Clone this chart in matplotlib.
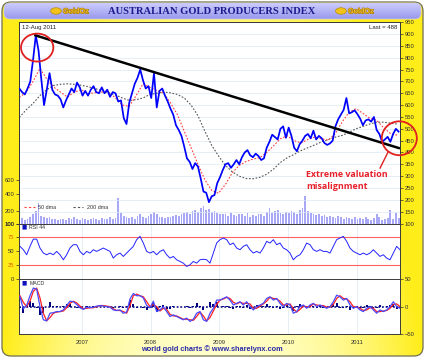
import numpy as np
import matplotlib
matplotlib.use("Agg")
import matplotlib.pyplot as plt
from matplotlib.patches import Ellipse, FancyBboxPatch
from matplotlib.lines import Line2D
import matplotlib.patheffects as pe

# ---------------- data ----------------
TITLE = "AUSTRALIAN GOLD PRODUCERS INDEX"
DATE_LABEL = "12-Aug 2011"
LAST_LABEL = "Last = 488"
FOOTER = "world gold charts \u00a9 www.sharelynx.com"
LOGO = "GoldOz"
NOTE = ["Extreme valuation", "misalignment"]
YEARS = [2007, 2008, 2009, 2010, 2011]
START, END = 2006.09, 2011.63          # decimal years shown on the x axis

PRICE = [670, 655, 645, 670, 700, 790, 895, 830, 710, 600,
         665, 735, 665, 645, 640, 625, 590, 620, 645, 670,
         655, 695, 675, 640, 660, 640, 665, 680, 655, 650,
         675, 650, 665, 635, 655, 650, 615, 620, 545, 520,
         610, 650, 690, 715, 750, 705, 670, 680, 630, 735,
         590, 660, 670, 640, 615, 585, 560, 515, 495, 470,
         425, 375, 360, 330, 355, 340, 290, 235, 230, 190,
         215, 220, 270, 295, 325, 350, 355, 335, 350, 368,
         350, 380, 400, 410, 388, 380, 395, 385, 368, 375,
         420, 445, 475, 465, 455, 500, 510, 462, 505, 470,
         420, 405, 435, 450, 470, 478, 460, 492, 455, 470,
         460, 440, 432, 438, 450, 510, 540, 560, 580, 630,
         565, 570, 578, 562, 543, 515, 535, 540, 530, 550,
         495, 478, 445, 455, 466, 445, 478, 500, 488]
PRICE_RANGE = (2006.09, 2011.61)

VOLUME = [130, 140, 125, 135, 150, 170, 200, 283, 160, 150,
          140, 150, 135, 130, 125, 135, 130, 125, 140, 130,
          145, 135, 125, 140, 130,
          125, 135, 140, 130, 125, 140, 135, 130, 150, 135,
          140, 340, 180, 160, 150, 140, 150, 135, 160, 170,
          150, 140, 160, 170, 190,
          175, 150, 145, 140, 150, 145, 155, 165, 160, 175,
          180, 190, 170, 200, 210, 190, 230, 250, 210, 220,
          190, 200, 180, 175, 170,
          175, 160, 180, 165, 155, 170, 175, 160, 180, 150,
          165, 155, 175, 170, 160, 195, 230, 180, 200, 215,
          185, 170, 190, 180, 200,
          190, 175, 210, 230, 370, 200, 180, 175, 165, 170,
          155, 165, 150, 160, 145, 140, 155, 145, 135, 150,
          140, 130, 145, 135, 140,
          130, 145, 135, 125, 140, 175, 150, 125, 135, 140,
          210, 130, 180, 140]

DMA50 = [632, 655, 700, 755, 710, 676, 655, 634, 655, 665,
         648, 652, 655, 655, 630, 600, 595, 640, 690, 675,
         662, 650, 610, 560, 490, 420, 350, 285, 240, 228,
         265, 315, 345, 362, 372, 378, 400, 428, 458, 470,
         450, 440, 455, 465, 458, 452, 480, 530, 570, 585,
         565, 545, 536, 505, 480, 473]
DMA200 = [548, 580, 607, 640, 665, 683, 688, 690, 688, 684,
          678, 670, 662, 652, 643, 630, 620, 623, 630, 645,
          650, 655, 652, 645, 630, 600, 555, 490, 430, 385,
          345, 318, 300, 290, 289, 295, 308, 330, 358, 378,
          392, 408, 420, 432, 445, 455, 465, 472, 485, 500,
          510, 520, 528, 528, 524, 520]
DMA_RANGE = (2006.09, 2011.59)

RSI = [59, 53, 44, 59, 72, 72, 56, 47, 44, 47,
       44, 50, 44, 35, 44, 56, 62, 62, 50, 44,
       50, 47, 53, 50, 53, 56, 53, 50, 38, 44,
       47, 41, 47, 53, 59, 71, 77, 65, 50, 47,
       50, 44, 50, 53, 44, 38, 41, 35, 32, 29,
       23, 26, 32, 29, 35, 36, 35, 29, 47, 65,
       71, 74, 71, 62, 65, 56, 53, 59, 62, 53,
       47, 50, 47, 56, 68, 65, 71, 62, 65, 56,
       53, 47, 35, 41, 44, 53, 65, 62, 53, 50,
       53, 50, 50, 47, 59, 71, 74, 77, 68, 56,
       50, 47, 44, 47, 44, 47, 53, 47, 41, 44,
       38, 35, 47, 59, 53]
RSI_NAME = "RSI 44"

MACD = [18, -4, 2, 20, 34, 32, 0, -24, -26, -12,
        -11, -9, -9, -6, 2, 10, 9, 4, -2, -5,
        -1, -2, -1, 1, 2, 1, 0, -1, -6, -7,
        -6, -12, -10, 14, 24, 20, 20, 16, 2, -2,
        10, -9, -6, 0, -9, -18, -15, -18, -21, -24,
        -21, -27, -23, -12, -9, -24, -27, -12, -3, 12,
        12, 15, 18, 12, 3, 6, 9, 3, 9, 0,
        -6, 0, 3, 6, 15, 18, 12, 15, 6, 0,
        6, 3, -12, -9, 0, 3, -3, 3, 6, 0,
        3, 0, -3, 0, 9, 21, 18, 12, 15, 3,
        -3, 0, -6, -9, -3, 0, -6, -12, -6, -9,
        -6, 0, 9, 0, -3]
SIGNAL = [20, 8, 0, 10, 28, 34, 16, -12, -26, -20,
          -12, -10, -9, -8, -2, 6, 10, 7, 1, -4,
          -3, -2, -2, 0, 2, 2, 1, 0, -4, -7,
          -7, -9, -12, 2, 20, 23, 20, 18, 9, 0,
          4, 0, -8, -3, -5, -14, -17, -17, -20, -23,
          -23, -24, -25, -18, -10, -17, -26, -20, -8, 4,
          12, 14, 17, 15, 8, 5, 8, 6, 6, 5,
          -3, -3, 1, 5, 10, 17, 15, 14, 10, 3,
          3, 5, -4, -10, -5, 1, 0, 0, 5, 3,
          2, 2, -1, -1, 4, 15, 20, 15, 14, 9,
          0, -1, -3, -7, -6, -2, -3, -9, -9, -8,
          -7, -3, 4, 5, 0]
HIST = [-2, -12, 2, 10, 6, -2, -16, -12, 0, 8,
        1, 1, 0, 2, 4, 4, -1, -3, -3, -1,
        2, 0, 1, 1, 0, -1, -1, -1, -2, 0,
        1, -3, 2, 12, 4, -3, 0, -2, -7, -2,
        6, -9, 2, 3, -4, -4, 2, -1, -1, -1,
        2, -3, 2, 6, 1, -7, -1, 8, 5, 8,
        0, 1, 1, -3, -5, 1, 1, -3, 3, -5,
        -3, 3, 2, 1, 5, 1, -3, 1, -4, -3,
        3, -2, -8, 1, 5, 2, -3, 3, 1, -3,
        1, -2, -2, 1, 5, 6, -2, -3, 1, -6,
        -3, 1, -3, -2, 3, 2, -3, -3, 3, -1,
        1, 3, 5, -5, -3]
IND_RANGE = (2006.10, 2011.63)

TREND_X = [2006.32, 2011.62]
TREND_Y = [895, 418]

for name, a, b in [("VOLUME", VOLUME, PRICE), ("DMA200", DMA200, DMA50),
                   ("MACD", MACD, RSI), ("SIGNAL", SIGNAL, RSI), ("HIST", HIST, RSI)]:
    if len(a) != len(b):
        raise SystemExit(f"{name}: {len(a)} vs {len(b)}")

px_dates = np.linspace(*PRICE_RANGE, len(PRICE))
dma_dates = np.linspace(*DMA_RANGE, len(DMA50))
ind_dates = np.linspace(*IND_RANGE, len(RSI))

# ---------------- figure ----------------
W, H = 425, 358
fig = plt.figure(figsize=(W / 100, H / 100), dpi=100)
FONT = "Liberation Sans"

bg = fig.add_axes([0, 0, 1, 1])
bg.axis("off")
xx = np.linspace(-1, 1, W)[None, :]
yy = np.linspace(0, 1, H)[:, None]
s = np.clip(np.abs(xx) ** 2.2 + (1 - yy) * 0.55, 0, 1)
sat = np.array([1.0, 0.93, 0.10])
pale = np.array([1.0, 1.0, 0.80])
img = pale + (sat - pale) * s[..., None]
frame = FancyBboxPatch((2, 2), 421, 354, boxstyle="round,pad=0,rounding_size=9",
                       fc="none", ec="#6f6f50", lw=0.9, zorder=3)
bg.add_patch(frame)
im = bg.imshow(img, extent=(2, 423, 356, 2), aspect="auto", zorder=1)
im.set_clip_path(frame)

tb = np.linspace(0, 1, 20)[:, None, None]
top_c = np.array([0.80, 0.80, 0.99])
bot_c = np.array([0.60, 0.60, 0.93])
timg = top_c + (bot_c - top_c) * tb * np.ones((1, 10, 1))
tbar = FancyBboxPatch((4, 3), 417, 16, boxstyle="round,pad=0,rounding_size=6",
                      fc="none", ec="#c8c8f0", lw=0.5, zorder=4)
bg.add_patch(tbar)
tim = bg.imshow(timg, extent=(4, 421, 19, 3), aspect="auto", zorder=2)
tim.set_clip_path(tbar)
bg.set_xlim(0, W)
bg.set_ylim(H, 0)

bg.text(212, 11.5, TITLE, ha="center", va="center", fontsize=7.6, fontweight="bold",
        family="Liberation Serif", color="#1c1c8e", zorder=5)
for lx in (50, 335):
    bg.add_patch(Ellipse((lx + 6, 11), 11, 6.5, fc="#f2c21a", ec="#b08000", lw=0.4, zorder=5))
    bg.text(lx + 13, 11.8, LOGO, ha="left", va="center", fontsize=5.2, fontweight="bold",
            family=FONT, color="#f0c030", zorder=5,
            path_effects=[pe.withStroke(linewidth=0.8, foreground="#a87800")])
bg.text(212, 349.5, FOOTER, ha="center", va="center", fontsize=5.3, fontweight="bold",
        family=FONT, color="#2a2aa8", zorder=5)

L, R = 19.3, 400.0
left, width = L / W, (R - L) / W
def box(top, bottom):
    return [left, 1 - bottom / H, width, (bottom - top) / H]

GRID = "#dce8f6"
SPINE = "#3a3a3a"
TICKCOL = "#303030"

# ---------- main panel: volume (base, left axis) + price (twin, right axis) ----------
axv = fig.add_axes(box(22.0, 223.5))
axv.set_facecolor("white")
axv.bar(px_dates, VOLUME, width=0.026, bottom=0, color="#a8a8f7", edgecolor="none", zorder=1)
axv.set_yscale("function", functions=(lambda v: np.sqrt(np.clip(v, 0, None)), np.square))
axv.set_ylim(100, 6040)
axv.set_yticks([100, 200, 400, 600])
axv.set_yticklabels(["100", "200", "400", "600"])
axv.minorticks_off()
axv.set_xlim(START, END)
axv.set_xticks(YEARS)
axv.tick_params(axis="x", length=0, labelbottom=False)
axv.tick_params(axis="y", labelsize=4.2, length=2.5, width=0.5, pad=1, colors=TICKCOL)

ax = axv.twinx()
ax.set_xlim(START, END)
ax.set_ylim(100, 951)
ax.set_yticks(np.arange(100, 951, 50))
ax.tick_params(axis="y", labelsize=4.2, length=2.5, width=0.5, pad=1, colors=TICKCOL)
ax.grid(True, color=GRID, lw=0.5, zorder=0)
ax.set_xticks(YEARS)
ax.tick_params(axis="x", length=0, labelbottom=False)
ax.plot(dma_dates, DMA200, color="#555555", lw=0.8, ls=(0, (1.5, 1.5)), zorder=2)
ax.plot(dma_dates, DMA50, color="#ff4040", lw=0.8, ls=(0, (1.5, 1.5)), zorder=2)
ax.plot(px_dates, PRICE, color="#0000ff", lw=1.25, zorder=3)
ax.plot(TREND_X, TREND_Y, color="black", lw=1.8, solid_capstyle="round", zorder=4)
for sp in list(ax.spines.values()) + list(axv.spines.values()):
    sp.set_color(SPINE)
    sp.set_linewidth(0.7)

ax.add_patch(Ellipse((2006.35, 843), 0.47, 118, fc="none", ec="#e02020", lw=1.3,
                     clip_on=False, zorder=6))
ax.add_patch(Ellipse((2011.62, 460), 0.51, 143, fc="none", ec="#e02020", lw=1.3,
                     clip_on=False, zorder=6))
ax.plot([2011.455, 2011.34], [401, 334], color="#e02020", lw=1.0, zorder=6)
ax.text(2010.26, 309, NOTE[0], ha="left", va="center", fontsize=6.4, fontweight="bold",
        family="Open Sans", color="#e8202a", zorder=6)
ax.text(2010.26, 258, NOTE[1], ha="left", va="center", fontsize=6.4, fontweight="bold",
        family="Open Sans", color="#e8202a", zorder=6)
ax.text(0.008, 0.985, DATE_LABEL, transform=ax.transAxes, ha="left", va="top",
        fontsize=4.3, family=FONT, color="#222222")
ax.text(0.992, 0.985, LAST_LABEL, transform=ax.transAxes, ha="right", va="top",
        fontsize=4.3, family=FONT, color="#222222")
handles = [Line2D([], [], color="#ff4040", lw=0.8, ls=(0, (2, 2))),
           Line2D([], [], color="#555555", lw=0.8, ls=(0, (2, 2)))]
ax.legend(handles, ["50 dma", "200 dma"], loc="lower left", bbox_to_anchor=(0.0, 0.045),
          ncol=2, frameon=False, prop={"family": FONT, "size": 3.9}, handlelength=2.0,
          columnspacing=3.0, handletextpad=0.6, labelcolor="#333333")

# ---------- RSI panel ----------
axr = fig.add_axes(box(223.5, 279.3))
axr.set_facecolor("white")
axr.set_xlim(START, END)
axr.set_ylim(0, 100)
axr.set_xticks(YEARS)
axr.grid(True, axis="x", color=GRID, lw=0.5)
axr.axhline(75, color="#ff6060", lw=0.8)
axr.axhline(25, color="#ff6060", lw=0.8)
axr.plot(ind_dates, RSI, color="#2323ff", lw=0.7)
axr.set_yticks([0, 25, 50, 75, 100])
axr.tick_params(axis="x", length=0, labelbottom=False)
axr.tick_params(axis="y", labelsize=4.2, length=2.5, width=0.5, pad=1, colors=TICKCOL)
for t, v in zip(axr.get_yticklabels(), [0, 25, 50, 75, 100]):
    if v in (25, 75):
        t.set_color("#e06a00")
axr.text(0.006, 0.93, "\u25a0", transform=axr.transAxes, ha="left", va="center",
         fontsize=4, color="#1010c0", family="DejaVu Sans")
axr.text(0.026, 0.93, RSI_NAME, transform=axr.transAxes, ha="left", va="center",
         fontsize=3.8, family=FONT, color="#333333")
for sp in axr.spines.values():
    sp.set_color(SPINE)
    sp.set_linewidth(0.7)

# ---------- MACD panel ----------
axm = fig.add_axes(box(279.3, 334.0))
axm.set_facecolor("white")
axm.set_xlim(START, END)
axm.set_ylim(-50, 50)
axm.set_xticks(YEARS)
axm.set_xticklabels([str(y) for y in YEARS])
axm.grid(True, axis="x", color=GRID, lw=0.5)
axm.bar(ind_dates, HIST, width=0.03, color="#000080", zorder=2)
axm.axhline(0, color="#000080", lw=1.1, ls=(0, (1.2, 1.2)), zorder=2)
axm.plot(ind_dates, SIGNAL, color="#ff2020", lw=0.9, zorder=3)
axm.plot(ind_dates, MACD, color="#4a4aff", lw=0.9, zorder=4)
axm.yaxis.tick_right()
axm.set_yticks([-50, 0, 50])
axm.tick_params(axis="y", labelsize=4.2, length=2.5, width=0.5, pad=1, colors=TICKCOL)
axm.tick_params(axis="x", length=0, labelsize=4.2, pad=4, colors=TICKCOL)
for t in axm.get_xticklabels() + axm.get_yticklabels():
    t.set_family(FONT)
axm.text(0.006, 0.93, "\u25a0", transform=axm.transAxes, ha="left", va="center",
         fontsize=4, color="#1010c0", family="DejaVu Sans")
axm.text(0.026, 0.93, "MACD", transform=axm.transAxes, ha="left", va="center",
         fontsize=3.8, family=FONT, color="#333333")
for sp in axm.spines.values():
    sp.set_color(SPINE)
    sp.set_linewidth(0.7)

for a in (ax, axv, axr):
    for t in a.get_yticklabels():
        t.set_family(FONT)

fig.savefig("out.png", dpi=100)
